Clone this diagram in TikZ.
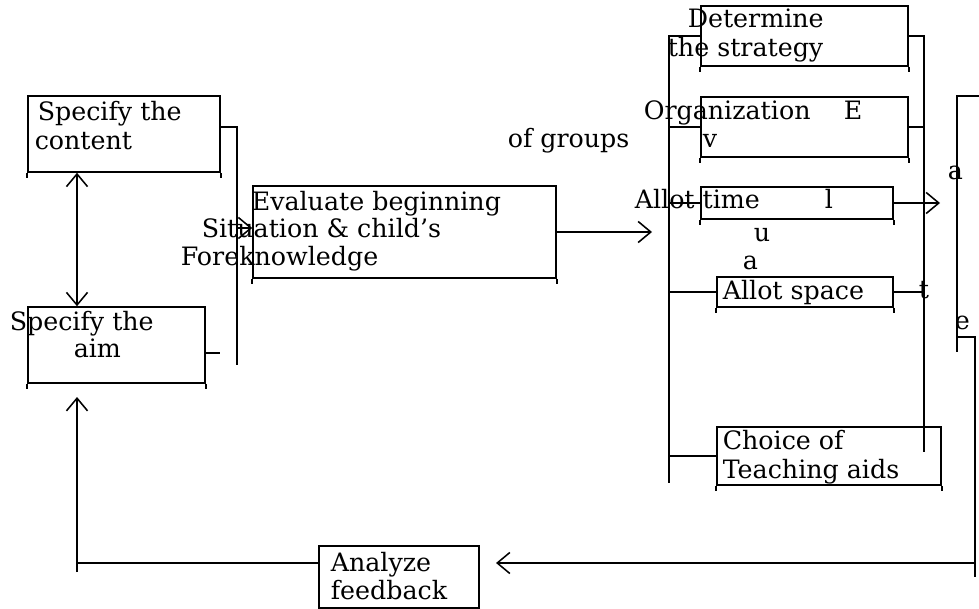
\documentclass[tikz,border=0pt]{standalone}
\usepackage{fontspec}
\setmainfont{DejaVu Serif}
\usetikzlibrary{arrows.meta,fit}

\begin{document}
\begin{tikzpicture}[x=0.025cm,y=-0.025cm,line width=1.1pt,
    font=\fontsize{18}{21}\selectfont,
    barb/.tip={Straight Barb[length=9pt,width=15pt,line width=1.1pt]},
    block/.style={draw,shape=rectangle,inner sep=0pt},
    txt/.style={anchor=base west,inner sep=0pt}]
		\useasboundingbox (0,0) rectangle (979,609);
		%%%
		\node[block,fit={(28,96) (220,172)}] (content) {};
		\node[block,fit={(28,307) (205,383)}] (aim) {};
		\node[block,fit={(253,186) (556,278)}] (evaluate) {};
		\node[block,fit={(701,6) (908,66)}] (strategy) {};
		\node[block,fit={(701,97) (908,157)}] (groups) {};
		\node[block,fit={(701,187) (893,219)}] (time) {};
		\node[block,fit={(717,277) (893,307)}] (space) {};
		\node[block,fit={(717,427) (941,485)}] (aids) {};
		\node[block,fit={(319,546) (479,608)}] (feedback) {};
		\foreach \n in {content,aim,evaluate,strategy,groups,time,space,aids,feedback} {
			\draw (\n.south west) -- +(0,5);
			\draw (\n.south east) -- +(0,5);
		}
		%%%
		\node[txt] (contentA) at (37,121) {Specify the};
		\node[txt] (contentB) at (34,150) {content};
		\node[txt] (aimA) at (9,331) {Specify the};
		\node[txt] (aimB) at (73,358) {aim};
		\node[txt] (evalA) at (251,211) {Evaluate beginning};
		\node[txt] (evalB) at (201,238) {Situation \& child’s};
		\node[txt] (evalC) at (180,266) {Foreknowledge};
		\node[txt] (stratA) at (687,28) {Determine};
		\node[txt] (stratB) at (667,57) {the strategy};
		\node[txt] (groupsA) at (643,120) {Organization};
		\node[txt] (groupsB) at (507,148) {of groups};
		\node[txt] (timeA) at (634,209) {Allot time};
		\node[txt] (spaceA) at (722,300) {Allot space};
		\node[txt] (aidsA) at (722,449) {Choice of};
		\node[txt] (aidsB) at (722,478) {Teaching aids};
		\node[txt] (fbA) at (330,571) {Analyze};
		\node[txt] (fbB) at (330,599) {feedback};
		% letters of the word spread over the right
		\node[txt] (ltE) at (843,120) {E};
		\node[txt] (ltV) at (702,148) {v};
		\node[txt] (ltA) at (947,180) {a};
		\node[txt] (ltL) at (824,209) {l};
		\node[txt] (ltU) at (753,242) {u};
		\node[txt] (ltA2) at (742,270) {a};
		\node[txt] (ltT) at (918,299) {t};
		\node[txt] (ltE2) at (954,330) {e};
		%%%
		\coordinate (lbarTop) at (237,127);
		\coordinate (lbarBot) at (237,365);
		\coordinate (evalIn) at (237,228);
		\coordinate (aimStub) at (220,353);
		\coordinate (link) at (77,0);
		\coordinate (plan) at (652,232);
		\coordinate (barL) at (669,483);
		\coordinate (barR) at (924,452);
		\coordinate (timeTip) at (940,0);
		\coordinate (outTop) at (979,96);
		\coordinate (outCorner) at (957,96);
		\coordinate (outBot) at (957,352);
		\coordinate (outStep) at (957,337);
		\coordinate (backTop) at (975,337);
		\coordinate (backBot) at (975,577);
		\coordinate (backLine) at (975,563);
		\coordinate (fbTip) at (496,563);
		\coordinate (aimTip) at (77,397);
		\coordinate (upBot) at (77,572);
		\coordinate (upLine) at (77,563);
		%%%
		\draw (content.east |- lbarTop) -- (lbarTop) -- (lbarBot);
		\draw[-barb] (evalIn) -- (evaluate.west |- evalIn);
		\draw (aim.east |- aimStub) -- (aimStub);
		\draw[barb-barb] (content.south -| link) -- (aim.north -| link);
		\draw[-barb] (evaluate.east |- plan) -- (plan);
		\draw (strategy.west) -| (barL);
		\foreach \n in {groups,time,space,aids}
			\draw (\n.west) -- (\n.west -| barL);
		\draw (strategy.east) -| (barR);
		\foreach \n in {groups,space}
			\draw (\n.east) -- (\n.east -| barR);
		\draw[-barb] (time.east) -- (time.east -| timeTip);
		\draw (outTop) -- (outCorner) -- (outBot);
		\draw (outStep) -- (backTop) -- (backBot);
		\draw[-barb] (backLine) -- (fbTip);
		\draw (feedback.west |- upLine) -- (upLine);
		\draw[-barb] (upBot) -- (aimTip);
	\end{tikzpicture}
\end{document}
